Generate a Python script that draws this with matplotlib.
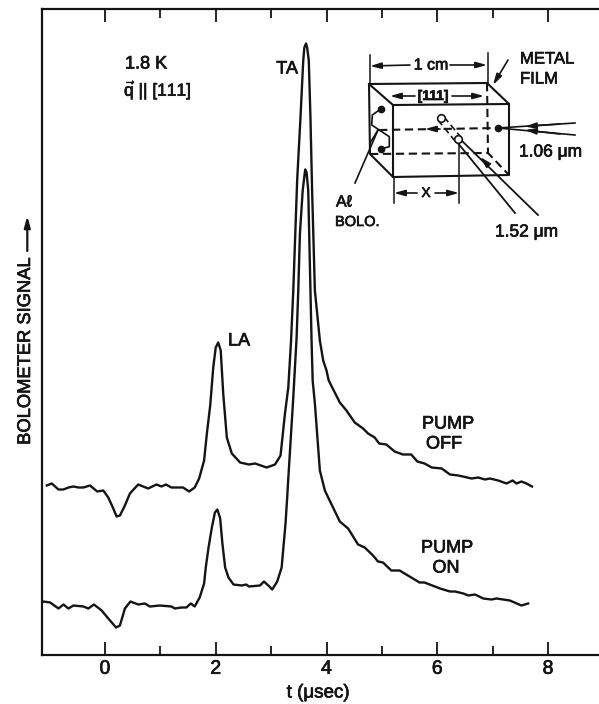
import matplotlib
matplotlib.use("Agg")
import matplotlib.pyplot as plt
import matplotlib.patheffects as pe

plt.rcParams['font.family'] = ['Liberation Sans', 'DejaVu Sans']
plt.rcParams['mathtext.fontset'] = 'custom'
plt.rcParams['mathtext.rm'] = 'Liberation Sans'
plt.rcParams['mathtext.it'] = 'Liberation Sans:italic'

INK = "#141414"
THICK = [pe.withStroke(linewidth=0.5, foreground=INK)]

t_off = [-1.05, -0.96, -0.84, -0.75, -0.66, -0.57, -0.48, -0.39, -0.27, -0.14, -0.03, 0.06, 0.15, 0.21, 0.27,
         0.36, 0.45, 0.60, 0.78, 0.93, 1.02, 1.10, 1.20, 1.41, 1.52, 1.62, 1.70, 1.79, 1.84, 1.90, 1.955, 2.00,
         2.045, 2.09, 2.135, 2.20, 2.29, 2.44, 2.60, 2.71, 2.92, 3.07, 3.17, 3.25, 3.31, 3.36, 3.40, 3.47, 3.53,
         3.58, 3.60, 3.63, 3.65, 3.68, 3.71, 3.74, 3.79, 3.88, 3.94, 4.00, 4.04, 4.24, 4.36, 4.51, 4.66, 4.75,
         4.87, 4.95, 5.08, 5.23, 5.38, 5.53, 5.64, 5.77, 5.90, 6.08, 6.23, 6.38, 6.62, 6.74, 6.86, 6.95, 7.10,
         7.25, 7.36, 7.43, 7.52, 7.61, 7.71]
sig_off = [169, 171, 165, 165, 167, 168, 167, 167, 169, 163, 164, 157, 146, 138, 139,
           149, 161, 170, 166, 170, 168, 170, 167, 167, 163, 167, 176, 194, 221, 249, 287, 307,
           312, 304, 261, 217, 201, 192, 190, 191, 187, 190, 199, 241, 267, 314, 364, 474, 537,
           594, 607, 611, 607, 594, 537, 464, 364, 314, 294, 284, 274, 252, 244, 232, 226, 221,
           217, 211, 210, 203, 200, 200, 193, 191, 187, 186, 180, 179, 176, 177, 175, 176, 174,
           171, 174, 171, 173, 171, 168]

t_on = [-1.14, -1.11, -0.99, -0.84, -0.75, -0.66, -0.57, -0.39, -0.30, -0.20, -0.06, 0.06, 0.20, 0.27, 0.36,
        0.46, 0.60, 0.72, 0.81, 0.99, 1.20, 1.26, 1.38, 1.47, 1.55, 1.62, 1.71, 1.79, 1.82, 1.87, 1.93, 1.985,
        2.03, 2.08, 2.12, 2.17, 2.23, 2.32, 2.47, 2.55, 2.60, 2.80, 2.87, 2.95, 3.02, 3.11, 3.19, 3.22, 3.26,
        3.29, 3.31, 3.40, 3.46, 3.49, 3.52, 3.57, 3.60, 3.615, 3.64, 3.67, 3.71, 3.73, 3.75, 3.79, 3.88, 3.97,
        4.24, 4.39, 4.57, 4.69, 4.84, 4.93, 5.02, 5.17, 5.32, 5.50, 5.68, 5.77, 6.05, 6.23, 6.32, 6.47, 6.56,
        6.68, 6.83, 6.98, 7.07, 7.31, 7.52, 7.64]
sig_on = [52, 53, 52, 46, 50, 46, 49, 48, 46, 50, 44, 36, 27, 29, 46,
          53, 50, 51, 48, 49, 48, 46, 47, 47, 51, 48, 57, 71, 87, 107, 127, 142,
          145, 136, 111, 87, 77, 70, 69, 70, 68, 69, 73, 69, 65, 73, 87, 106, 131,
          157, 176, 257, 317, 364, 421, 464, 478, 485, 482, 464, 364, 314, 274, 251, 184, 164,
          133, 126, 110, 107, 99, 93, 92, 84, 84, 78, 72, 72, 66, 63, 63, 61, 59,
          60, 56, 55, 56, 54, 49, 51]

major_ticks = [0, 2, 4, 6, 8]
minor_ticks = [1, 3, 5, 7]

W, H = 599, 704
fig = plt.figure(figsize=(W / 100, H / 100), dpi=100)
ax = fig.add_axes([42 / W, (H - 654.5) / H, 1 - 42 / W, (654.5 - 9) / H])
ax.set_xlim(-1.137, 8.92)
ax.set_ylim(0, 645.5)

ax.plot(t_off, sig_off, color=INK, lw=1.7, solid_joinstyle='round')
ax.plot(t_on, sig_on, color=INK, lw=1.7, solid_joinstyle='round')

for s in ['left', 'top', 'bottom']:
    ax.spines[s].set_linewidth(1.6)
    ax.spines[s].set_color(INK)
ax.spines['right'].set_visible(False)
ax.set_yticks([])
ax.set_xticks(major_ticks)
ax.set_xticks(minor_ticks, minor=True)
ax.tick_params(axis='x', which='major', direction='in', top=True, length=9.5, width=1.3,
               labelsize=14, pad=4.5, color=INK, labelcolor=INK)
ax.tick_params(axis='x', which='minor', direction='in', top=True, length=6.5, width=1.3, color=INK)
for lab in ax.get_xticklabels():
    lab.set_path_effects(THICK)

# overlay in image pixels for the labels and the sample sketch
ov = fig.add_axes([0, 0, 1, 1], facecolor='none')
ov.set_xlim(0, W)
ov.set_ylim(H, 0)
ov.axis('off')


def txt(x, y, s, size=11.5, ha='center', **kw):
    ov.text(x, y, s, fontsize=size, ha=ha, va='center', color=INK, path_effects=THICK, **kw)


def seg(pts, dashed=False, lw=1.5):
    xs, ys = zip(*pts)
    if dashed:
        ov.plot(xs, ys, color=INK, lw=lw, dashes=(4, 2.2))
    else:
        ov.plot(xs, ys, color=INK, lw=lw)


def arrow(start, end, lw=1.2):
    ov.annotate('', xy=end, xytext=start,
                arrowprops=dict(arrowstyle='-|>,head_length=0.65,head_width=0.18', color=INK, lw=lw,
                                shrinkA=0, shrinkB=0))


txt(318, 693, 't (μsec)', size=13.5)
txt(25.5, 351, 'BOLOMETER SIGNAL', size=13.2, rotation=90)
arrow((27.3, 251), (27.3, 216), lw=1.6)

txt(125, 64, '1.8 K', size=13, ha='left')
txt(124, 90, r'$\vec{\mathrm{q}}$ || [111]', size=12.5, ha='left')
txt(287, 69, 'TA', size=13)
txt(239, 341, 'LA', size=13)
txt(448, 424, 'PUMP', size=13)
txt(444, 444, 'OFF', size=13)
txt(447, 548, 'PUMP', size=13)
txt(446, 568, 'ON', size=13)

# sample box
seg([(369, 84), (487, 83), (509, 104), (509, 175), (393, 177), (370, 154), (369, 84), (393, 105), (509, 104)])
seg([(393, 105), (393, 177)])
seg([(487, 83), (488, 153)], dashed=True)
seg([(370, 154), (488, 153), (509, 175)], dashed=True)
seg([(379, 130), (498, 128)], dashed=True)

# dimension lines
seg([(369.5, 55), (369.5, 84)], lw=1.1)
seg([(487.5, 53), (487.5, 83)], lw=1.1)
arrow((410, 65), (370, 66))
arrow((450, 65), (487, 65))
txt(431, 65, '1 cm', size=11.5)
arrow((415, 96), (390, 96))
arrow((452, 96), (484, 96))
txt(433, 96, '[111]', size=10, fontweight='bold')
seg([(393.5, 177), (393.5, 203)], lw=1.1)
seg([(459, 140), (459, 203)], lw=1.1)
arrow((417, 193), (394, 193))
arrow((435, 193), (459, 193))
txt(426, 193, 'X', size=10)

# laser beams
seg([(575, 123), (498, 128), (575, 135)], lw=1.2)
arrow((560, 124), (525, 126.5))
arrow((560, 134), (525, 130))
ov.plot([498.3], [128.3], 'o', color=INK, ms=4.5)
arrow((440, 129), (425, 129))
seg([(458, 137), (538, 215)], lw=1.3)
seg([(457, 142), (515, 213)], lw=1.3)
seg([(438, 120), (455, 141)], dashed=True, lw=1.2)
seg([(444, 117), (460, 136)], dashed=True, lw=1.2)
ov.plot([441, 458.3], [118.3, 139], 'o', mec=INK, mfc='white', ms=5.5, mew=1.2)
arrow((488, 165), (480, 157))

# bolometer
ov.plot([380.7, 380.7], [109, 149], 'o', color=INK, ms=4.5)
seg([(380.7, 109), (372.3, 115), (371.7, 125), (389.3, 136.7), (389.3, 146.7), (380.7, 149)], lw=1.2)
seg([(355, 183), (378, 130)], lw=1.2)
seg([(378, 130), (370, 143)], lw=1.2)

txt(520, 59, 'METAL', size=12, ha='left')
txt(520, 79, 'FILM', size=12, ha='left')
arrow((508, 60), (493, 85))
txt(519, 152, '1.06 μm', size=12.5, ha='left')
txt(495, 232, '1.52 μm', size=12.5, ha='left')
txt(336, 202, 'Aℓ', size=11.5, ha='left')
txt(335, 222, 'BOLO.', size=10.5, ha='left')

fig.savefig('out.png', dpi=100, facecolor='white')
